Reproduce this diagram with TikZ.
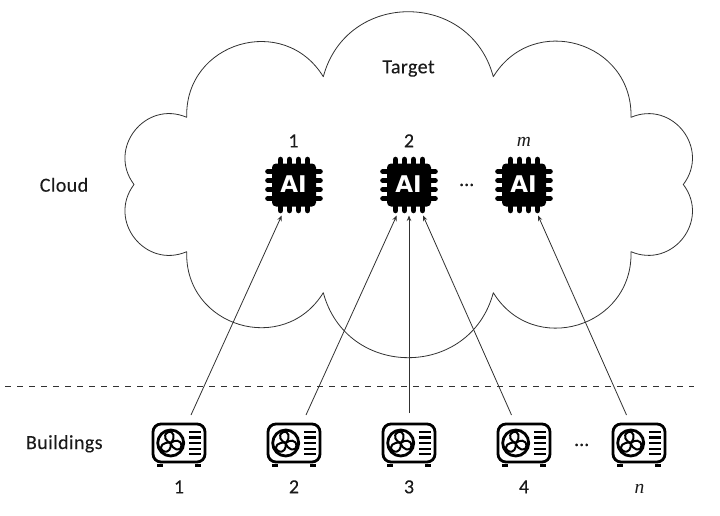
\documentclass[tikz,border=0pt]{standalone}
\usepackage{fontspec}
\setmainfont{Carlito}
\newfontfamily\wordfont[LetterSpace=2,FakeBold=0.12]{Carlito}
\newfontfamily\digitfont[FakeBold=0.12]{Carlito}
\newfontfamily\mathish{Liberation Serif}
\newfontfamily\aifont{DejaVu Sans}
\usetikzlibrary{arrows.meta}
\definecolor{ink}{HTML}{1A1A1A}
\tikzset{
  x=1pt,y=-1pt,
  cloudline/.style={draw=ink!90,line width=0.8pt,line join=round},
  puff/.style={bend left=75,looseness=1.353},
  conn/.style={draw=ink!90,line width=0.8pt,-{Stealth[length=5.5pt,width=4.5pt]}},
  sepline/.style={draw=ink!90,line width=0.7pt,dash pattern=on 6pt off 6pt},
  txt/.style={anchor=base,inner sep=0pt,text=ink,font=\fontsize{20}{22}\selectfont\digitfont},
  wordtxt/.style={anchor=base,inner sep=0pt,text=ink,font=\fontsize{20}{22}\selectfont\wordfont},
  mathtxt/.style={anchor=base,inner sep=0pt,text=ink,font=\fontsize{19.5}{22}\selectfont\mathish\itshape},
  chipbox/.style={inner sep=0pt,minimum width=58pt,minimum height=57pt},
  unitbox/.style={inner sep=0pt,minimum width=55pt,minimum height=46pt},
  aitext/.style={inner sep=0pt,text=white,font=\fontsize{23}{24}\selectfont\aifont\bfseries},
  chipicon/.pic={
    \fill[black,rounded corners=4pt] (-22,-21.5) rectangle (22,21.5);
    \foreach \o in {-13.5,-4.5,4.5,13.5}{
      \draw[black,line width=5.6pt,line cap=round] (\o,-20) -- (\o,-25.5);
      \draw[black,line width=5.6pt,line cap=round] (\o,20) -- (\o,25.5);
      \draw[black,line width=5.2pt,line cap=round] (-20,\o) -- (-26.2,\o);
      \draw[black,line width=5.2pt,line cap=round] (20,\o) -- (26.2,\o);
    }
  },
  uniticon/.pic={
    \draw[black,line width=2.8pt,rounded corners=8pt] (-26,-19) rectangle (26,19);
    \draw[black,line width=2.8pt] (-8.3,0) circle[radius=13];
    \foreach \r in {20,140,260}{
      \draw[black,line width=2pt,line join=round,fill=white,shift={(-8.3,0)},rotate=\r]
        (0,0) .. controls (-4,-3) and (-5.5,-10) .. (1,-11)
              .. controls (7.5,-11.3) and (6.5,-3) .. (0,0);
    }
    \foreach \o in {-11.2,-5.6,0,5.6,11.2}{
      \draw[black,line width=2.2pt] (10,\o) -- (21.8,\o);
    }
    \draw[black,line width=2.6pt] (-22,22.6) -- (-16,22.6);
    \draw[black,line width=2.6pt] (16,22.6) -- (22,22.6);
  },
}
\begin{document}
\begin{tikzpicture}
\useasboundingbox (0,0) rectangle (720,516);
% cloud
\coordinate (p1) at (134,184.5);
\coordinate (p2) at (186.7,117.3);
\coordinate (p3) at (323.3,76.7);
\coordinate (p4) at (493.3,76.7);
\coordinate (p5) at (631,117.3);
\coordinate (p6) at (683.3,184.5);
\coordinate (p7) at (631,251.7);
\coordinate (p8) at (493.3,292.7);
\coordinate (p9) at (323.3,292.7);
\coordinate (p10) at (186.7,251.7);
\path[cloudline] (p1) to[puff] (p2) to[puff] (p3) to[puff] (p4) to[puff] (p5) to[puff] (p6)
  to[puff] (p7) to[puff] (p8) to[puff] (p9) to[puff] (p10) to[puff] (p1);
% chips
\node[chipbox] (c1) at (294,185) {};
\node[chipbox] (c2) at (409,185) {};
\node[chipbox] (c3) at (524,185) {};
\pic at (c1) {chipicon};
\pic at (c2) {chipicon};
\pic at (c3) {chipicon};
\node[aitext] (ai1) at (293.5,184.3) {AI};
\node[aitext] (ai2) at (408.5,184.3) {AI};
\node[aitext] (ai3) at (523.5,184.3) {AI};
% units
\node[unitbox] (u1) at (179,443) {};
\node[unitbox] (u2) at (294,443) {};
\node[unitbox] (u3) at (409,443) {};
\node[unitbox] (u4) at (524,443) {};
\node[unitbox] (u5) at (639,443) {};
\pic at (u1) {uniticon};
\pic at (u2) {uniticon};
\pic at (u3) {uniticon};
\pic at (u4) {uniticon};
\pic at (u5) {uniticon};
% connector ends
\coordinate (u1s) at (191,415);
\coordinate (u2s) at (306,415);
\coordinate (u3s) at (409,413);
\coordinate (u4s) at (511.5,415);
\coordinate (u5s) at (626.5,415);
\coordinate (c1a) at (281.7,215.5);
\coordinate (c2a) at (396.7,215.5);
\coordinate (c2b) at (409,215.5);
\coordinate (c2c) at (423,215.5);
\coordinate (c3a) at (538,215.5);
\draw[conn] (u1s) -- (c1a);
\draw[conn] (u2s) -- (c2a);
\draw[conn] (u3s) -- (c2b);
\draw[conn] (u4s) -- (c2c);
\draw[conn] (u5s) -- (c3a);
% separator
\coordinate (sl) at (5,386);
\coordinate (sr) at (694,386);
\draw[sepline] (sl) -- (sr);
% labels
\node[wordtxt] (target) at (408.5,73.3) {Target};
\node[wordtxt] (cloud) at (64,191.7) {Cloud};
\node[wordtxt] (bldg) at (64.3,449) {Buildings};
\node[txt] (t1) at (293.5,147.3) {1};
\node[txt] (t2) at (409,147.3) {2};
\node[mathtxt] (t3) at (524,146.5) {m};
\node[txt] (dots1) at (466.7,186) {...};
\node[txt] (dots2) at (581.7,446) {...};
\node[txt] (b1) at (179,493.3) {1};
\node[txt] (b2) at (294,493.3) {2};
\node[txt] (b3) at (409,493.3) {3};
\node[txt] (b4) at (524,493.3) {4};
\node[mathtxt] (b5) at (639.5,493) {n};
\end{tikzpicture}
\end{document}
